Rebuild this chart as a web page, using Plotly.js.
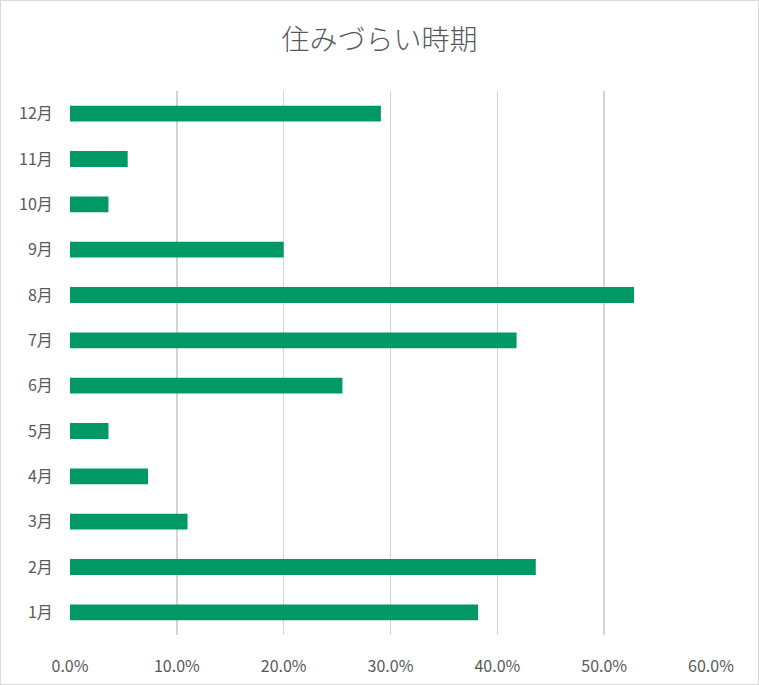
<!DOCTYPE html>
<html>
<head>
<meta charset="utf-8">
<script src="https://cdn.plot.ly/plotly-3.0.1.min.js"></script>
<style>
  html, body { margin: 0; padding: 0; background: #fff; }
  #chart { width: 757px; height: 683px; border: 1px solid #d9d9d9; }
</style>
</head>
<body>
<div id="chart"></div>
<script>
// months listed bottom to top, as Excel draws them
var months = ["1月", "2月", "3月", "4月", "5月", "6月", "7月", "8月", "9月", "10月", "11月", "12月"];
var shares = [0.382, 0.436, 0.110, 0.073, 0.036, 0.255, 0.418, 0.528, 0.200, 0.036, 0.054, 0.291];
var xTicks = [0, 0.1, 0.2, 0.3, 0.4, 0.5, 0.6];

var font = "'Noto Sans CJK JP', 'Noto Sans', sans-serif";

var data = [
    {
        type: "bar",
        orientation: "h",
        x: shares,
        y: months,
        marker: {
            color: "#009966"
        },
        hoverinfo: "x+y"
    }
];

var layout = {
    width: 757,
    height: 683,
    showlegend: false,
    paper_bgcolor: "#ffffff",
    plot_bgcolor: "#ffffff",
    margin: { l: 69, r: 47, t: 90, b: 49 },
    bargap: 0.65,
    font: { family: font, color: "#595959", size: 16 },
    title: {
        text: "住みづらい時期",
        font: { family: font, size: 28, color: "#595959", weight: 300 },
        x: 0.5,
        xanchor: "center",
        y: 0.942,
        yanchor: "middle"
    },
    xaxis: {
        range: [0, 0.6],
        tickvals: xTicks,
        tickformat: ".1%",
        showgrid: true,
        gridcolor: "#d4d4d4",
        gridwidth: 1.5,
        zeroline: false,
        showline: false,
        ticks: "outside",
        ticklen: 17,
        tickcolor: "rgba(0,0,0,0)",
        tickfont: { size: 16, color: "#595959" },
        fixedrange: true
    },
    yaxis: {
        type: "category",
        showgrid: false,
        zeroline: false,
        showline: false,
        ticks: "outside",
        ticklen: 13,
        tickcolor: "rgba(0,0,0,0)",
        tickfont: { size: 16, color: "#595959" },
        fixedrange: true
    }
};

Plotly.newPlot("chart", data, layout, { displayModeBar: false, staticPlot: true });
</script>
</body>
</html>
